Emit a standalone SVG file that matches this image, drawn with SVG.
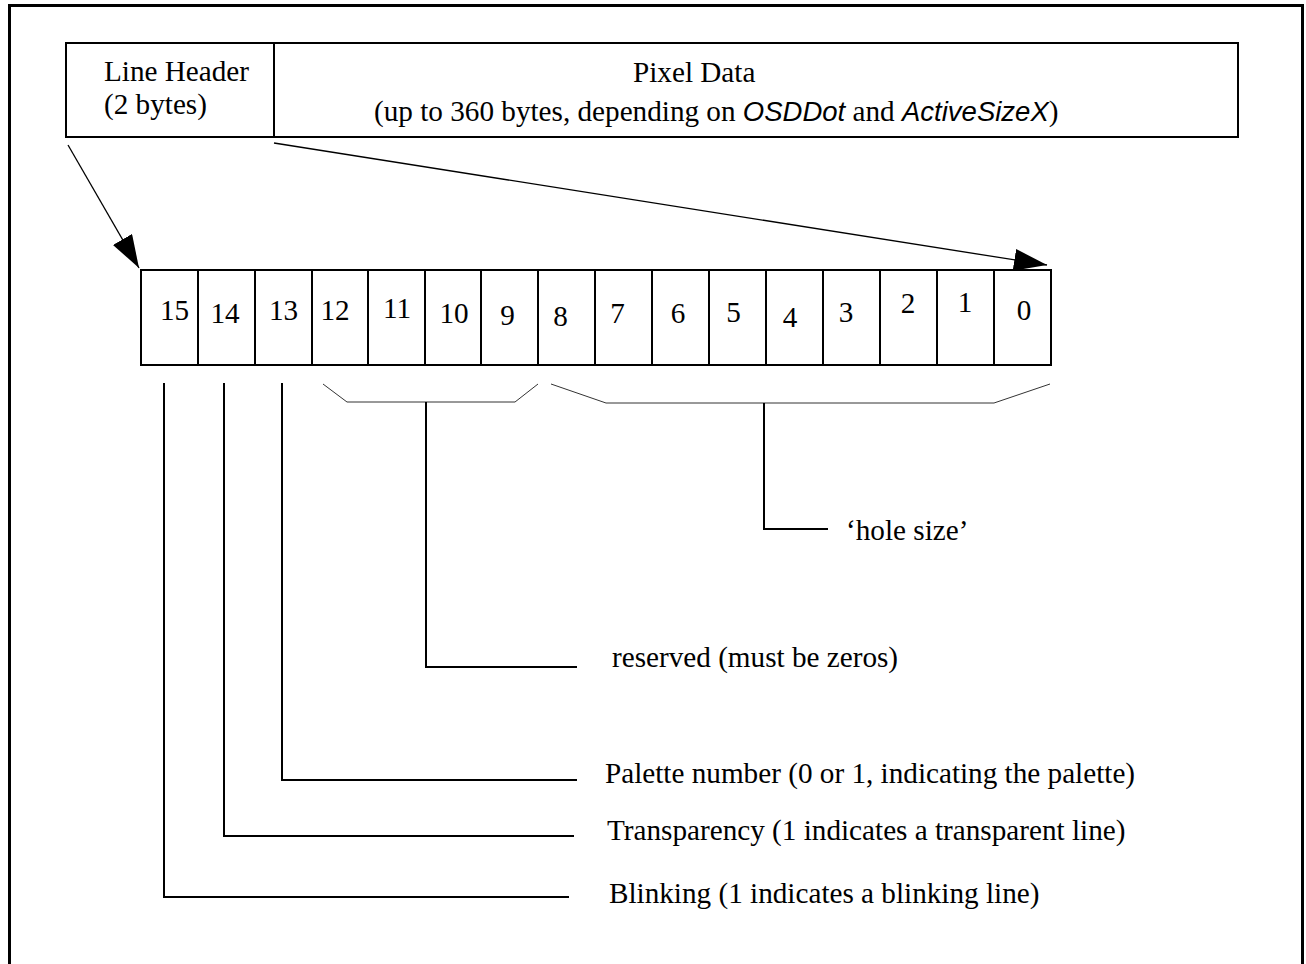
<svg xmlns="http://www.w3.org/2000/svg" width="1306" height="964" viewBox="0 0 1306 964">
<style>
.t{font-family:"Liberation Serif","Times New Roman",serif;font-size:29.2px;fill:#000}
.i{font-family:"Liberation Sans",Arial,sans-serif;font-style:italic;font-size:27.5px}
.box{fill:#fff;stroke:#000;stroke-width:2}
.thin{fill:none;stroke:#000;stroke-width:1.3}
.br{fill:none;stroke:#333;stroke-width:1}
.lead{fill:none;stroke:#000;stroke-width:2}
</style>
<defs>
<marker id="ah" markerUnits="userSpaceOnUse" markerWidth="34" markerHeight="24" refX="33" refY="11" orient="auto">
<path d="M0,0 L33,11 L0,22 z" fill="#000"/>
</marker>
</defs>
<rect width="1306" height="964" fill="#fff"/>
<path d="M9.5,964 V5.5 H1302.5 V964" fill="none" stroke="#000" stroke-width="3"/>
<g id="line-header">
<rect class="box" x="66" y="43" width="208" height="94"/>
<text class="t" x="104" y="81">Line Header</text>
<text class="t" x="104" y="114">(2 bytes)</text>
</g>
<g id="pixel-data">
<rect class="box" x="274" y="43" width="964" height="94"/>
<text class="t" x="633" y="82">Pixel Data</text>
<text class="t" x="374" y="121">(up to 360 bytes, depending on <tspan class="i">OSDDot</tspan> and <tspan class="i">ActiveSizeX</tspan>)</text>
</g>
<g id="register">
<rect class="box" x="141" y="270" width="910" height="95"/>
<path class="lead" d="M198,270V365M255,270V365M312,270V365M368,270V365M425,270V365M481,270V365M538,270V365M595,270V365M652,270V365M709,270V365M766,270V365M823,270V365M880,270V365M937,270V365M994,270V365"/>
<text class="t" text-anchor="middle" x="174.5" y="320">15</text>
<text class="t" text-anchor="middle" x="225" y="323">14</text>
<text class="t" text-anchor="middle" x="283.5" y="320">13</text>
<text class="t" text-anchor="middle" x="335" y="320">12</text>
<text class="t" text-anchor="middle" x="397" y="318">11</text>
<text class="t" text-anchor="middle" x="454" y="323">10</text>
<text class="t" text-anchor="middle" x="507.5" y="325">9</text>
<text class="t" text-anchor="middle" x="560.5" y="326">8</text>
<text class="t" text-anchor="middle" x="617.5" y="323">7</text>
<text class="t" text-anchor="middle" x="678" y="323">6</text>
<text class="t" text-anchor="middle" x="733.5" y="322">5</text>
<text class="t" text-anchor="middle" x="790" y="327">4</text>
<text class="t" text-anchor="middle" x="846" y="322">3</text>
<text class="t" text-anchor="middle" x="908" y="313">2</text>
<text class="t" text-anchor="middle" x="965" y="312">1</text>
<text class="t" text-anchor="middle" x="1024" y="320">0</text>
</g>
<g id="labels">
<text class="t" x="846" y="540">‘hole size’</text>
<text class="t" x="612" y="667">reserved (must be zeros)</text>
<text class="t" x="605" y="783">Palette number (0 or 1, indicating the palette)</text>
<text class="t" x="607" y="840">Transparency (1 indicates a transparent line)</text>
<text class="t" x="609" y="903">Blinking (1 indicates a blinking line)</text>
</g>
<g id="connectors">
<line class="thin" x1="68" y1="145" x2="139" y2="268" marker-end="url(#ah)"/>
<line class="thin" x1="274" y1="143" x2="1047" y2="265" marker-end="url(#ah)"/>
<path class="br" d="M323,384 L347,402 H515 L538,384"/>
<path class="br" d="M551,384 L606,403 H994 L1050,384"/>
<path class="lead" d="M426,402 V667 H577"/>
<path class="lead" d="M764,403 V529 H828"/>
<path class="lead" d="M282,383 V780 H577"/>
<path class="lead" d="M224,383 V836 H574"/>
<path class="lead" d="M164,383 V897 H569"/>
</g>
</svg>
